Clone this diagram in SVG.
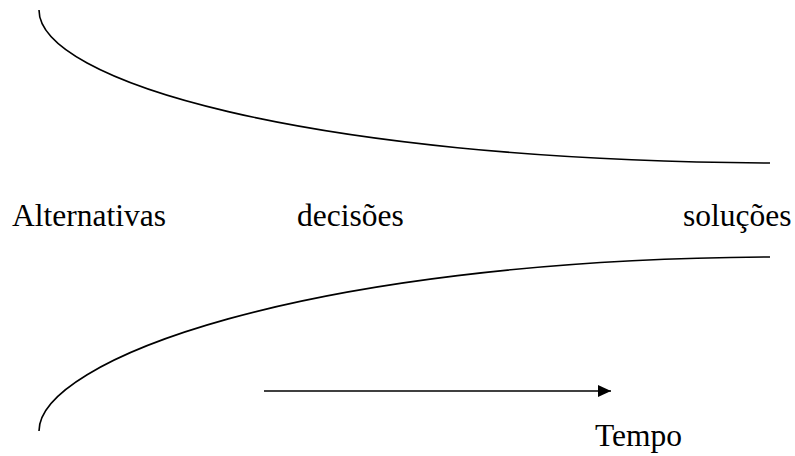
<svg xmlns="http://www.w3.org/2000/svg" width="795" height="456" viewBox="0 0 795 456">
<style>
.c{fill:none;stroke:#000;stroke-width:1.6}
.t{font-family:"Liberation Serif","Times New Roman",serif;font-size:31.5px;fill:#000}
</style>
<defs>
<marker id="ah" markerWidth="13" markerHeight="12" refX="13" refY="6" orient="auto" markerUnits="userSpaceOnUse">
<path d="M0,0 L13,6 L0,12 Z" fill="#000"/>
</marker>
</defs>
<rect width="795" height="456" fill="#fff"/>
<g id="shapes">
<path id="top-curve" class="c" d="M39,10 C39,80 300,160 770,163"/>
<path id="bottom-curve" class="c" d="M39,431 C39,361 300,260 770,257"/>
</g>
<g id="connectors">
<line x1="264" y1="391" x2="611" y2="391" stroke="#000" stroke-width="1.6" marker-end="url(#ah)"/>
</g>
<g id="label-alternativas"><text class="t" x="12" y="226">Alternativas</text></g>
<g id="label-decisoes"><text class="t" x="297" y="226">decisões</text></g>
<g id="label-solucoes"><text class="t" x="683" y="226">soluções</text></g>
<g id="label-tempo"><text class="t" x="595" y="446">Tempo</text></g>
</svg>
